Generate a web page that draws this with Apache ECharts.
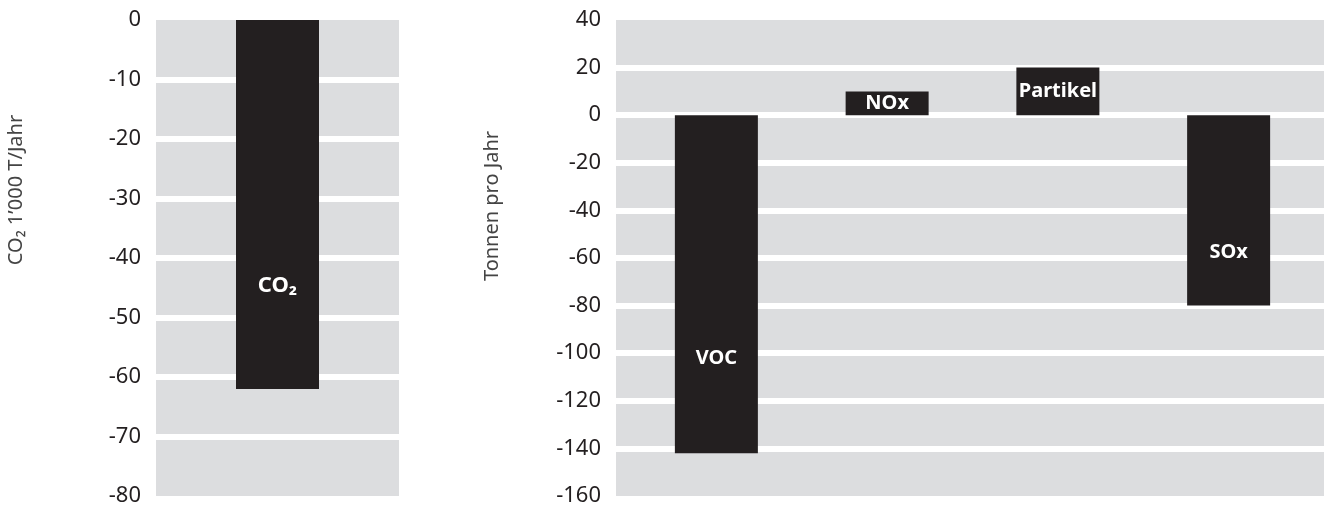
<!DOCTYPE html>
<html>
<head>
<meta charset="utf-8">
<script src="https://cdn.jsdelivr.net/npm/echarts@6/dist/echarts.min.js"></script>
<style>
  html, body { margin: 0; padding: 0; background: #fff; }
  #chart { width: 1324px; height: 508px; }
</style>
</head>
<body>
<div id="chart"></div>
<script>
// CO2 Teil
var co2Categories = ["CO\u2082"];
var co2Values = [-62];
var co2Ticks = { min: -80, max: 0, interval: 10 };

// Luftschadstoffe
var airCategories = ["VOC", "NOx", "Partikel", "SOx"];
var airValues = [-142, 10, 20, -80];
var airTicks = { min: -160, max: 40, interval: 20 };

var barColor = "#231f20";
var gridGrey = "#dcdddf";
var fontFam = "'Noto Sans', sans-serif";

// white lines between the grey bands, none at the outer edges
function lineColors(t) {
  var n = Math.round((t.max - t.min) / t.interval) + 1;
  var arr = [];
  for (var i = 0; i < n; i++) {
    arr.push(i === 0 || i === n - 1 ? "rgba(255,255,255,0)" : "#ffffff");
  }
  return arr;
}

function valueAxis(gridIndex, t, showLabels) {
  return {
    type: "value",
    gridIndex: gridIndex,
    min: t.min,
    max: t.max,
    interval: t.interval,
    axisLine: { show: false },
    axisTick: { show: false },
    axisLabel: {
      show: showLabels,
      margin: 15,
      color: barColor,
      fontSize: 22,
      fontFamily: fontFam
    },
    splitLine: {
      show: showLabels,
      lineStyle: { color: lineColors(t), width: 6 }
    }
  };
}

function barData(values) {
  return values.map(function(v) {
    return {
      value: v,
      label: v < 0
        ? { position: ["50%", "72%"], align: "center", verticalAlign: "middle" }
        : { position: "inside" }
    };
  });
}

var labelStyle = {
  show: true,
  color: "#fff",
  fontSize: 20,
  fontWeight: "bold",
  fontFamily: fontFam,
  formatter: "{b}"
};

var option = {
  animation: false,
  backgroundColor: "#fff",
  grid: [
    { left: 156, right: 925, top: 20, bottom: 12, show: true, backgroundColor: gridGrey, borderWidth: 0 },
    { left: 616, right: 0, top: 20, bottom: 12, show: true, backgroundColor: gridGrey, borderWidth: 0 },
    { left: 631, right: 10, top: 20, bottom: 12 }
  ],
  xAxis: [
    { type: "category", gridIndex: 0, data: co2Categories, show: false },
    { type: "category", gridIndex: 1, data: [], show: false },
    { type: "category", gridIndex: 2, data: airCategories, show: false }
  ],
  yAxis: [
    valueAxis(0, co2Ticks, true),
    valueAxis(1, airTicks, true),
    valueAxis(2, airTicks, false)
  ],
  graphic: [
    {
      type: "text",
      x: 16,
      y: 190,
      rotation: Math.PI / 2,
      style: {
        text: "CO\u2082 1\u2019000 T/Jahr",
        fill: "#444",
        fontSize: 20,
        fontFamily: fontFam,
        align: "center",
        verticalAlign: "middle"
      }
    },
    {
      type: "text",
      x: 492,
      y: 206,
      rotation: Math.PI / 2,
      style: {
        text: "Tonnen pro Jahr",
        fill: "#444",
        fontSize: 20,
        fontFamily: fontFam,
        align: "center",
        verticalAlign: "middle"
      }
    }
  ],
  series: [
    {
      type: "bar",
      xAxisIndex: 0,
      yAxisIndex: 0,
      data: barData(co2Values),
      barWidth: 83,
      itemStyle: { color: barColor },
      label: Object.assign({}, labelStyle, { fontSize: 22 })
    },
    {
      type: "bar",
      xAxisIndex: 2,
      yAxisIndex: 2,
      data: barData(airValues),
      barWidth: 83,
      itemStyle: { color: barColor },
      label: labelStyle
    }
  ]
};

var myChart = echarts.init(document.getElementById("chart"));
myChart.setOption(option);
</script>
</body>
</html>
